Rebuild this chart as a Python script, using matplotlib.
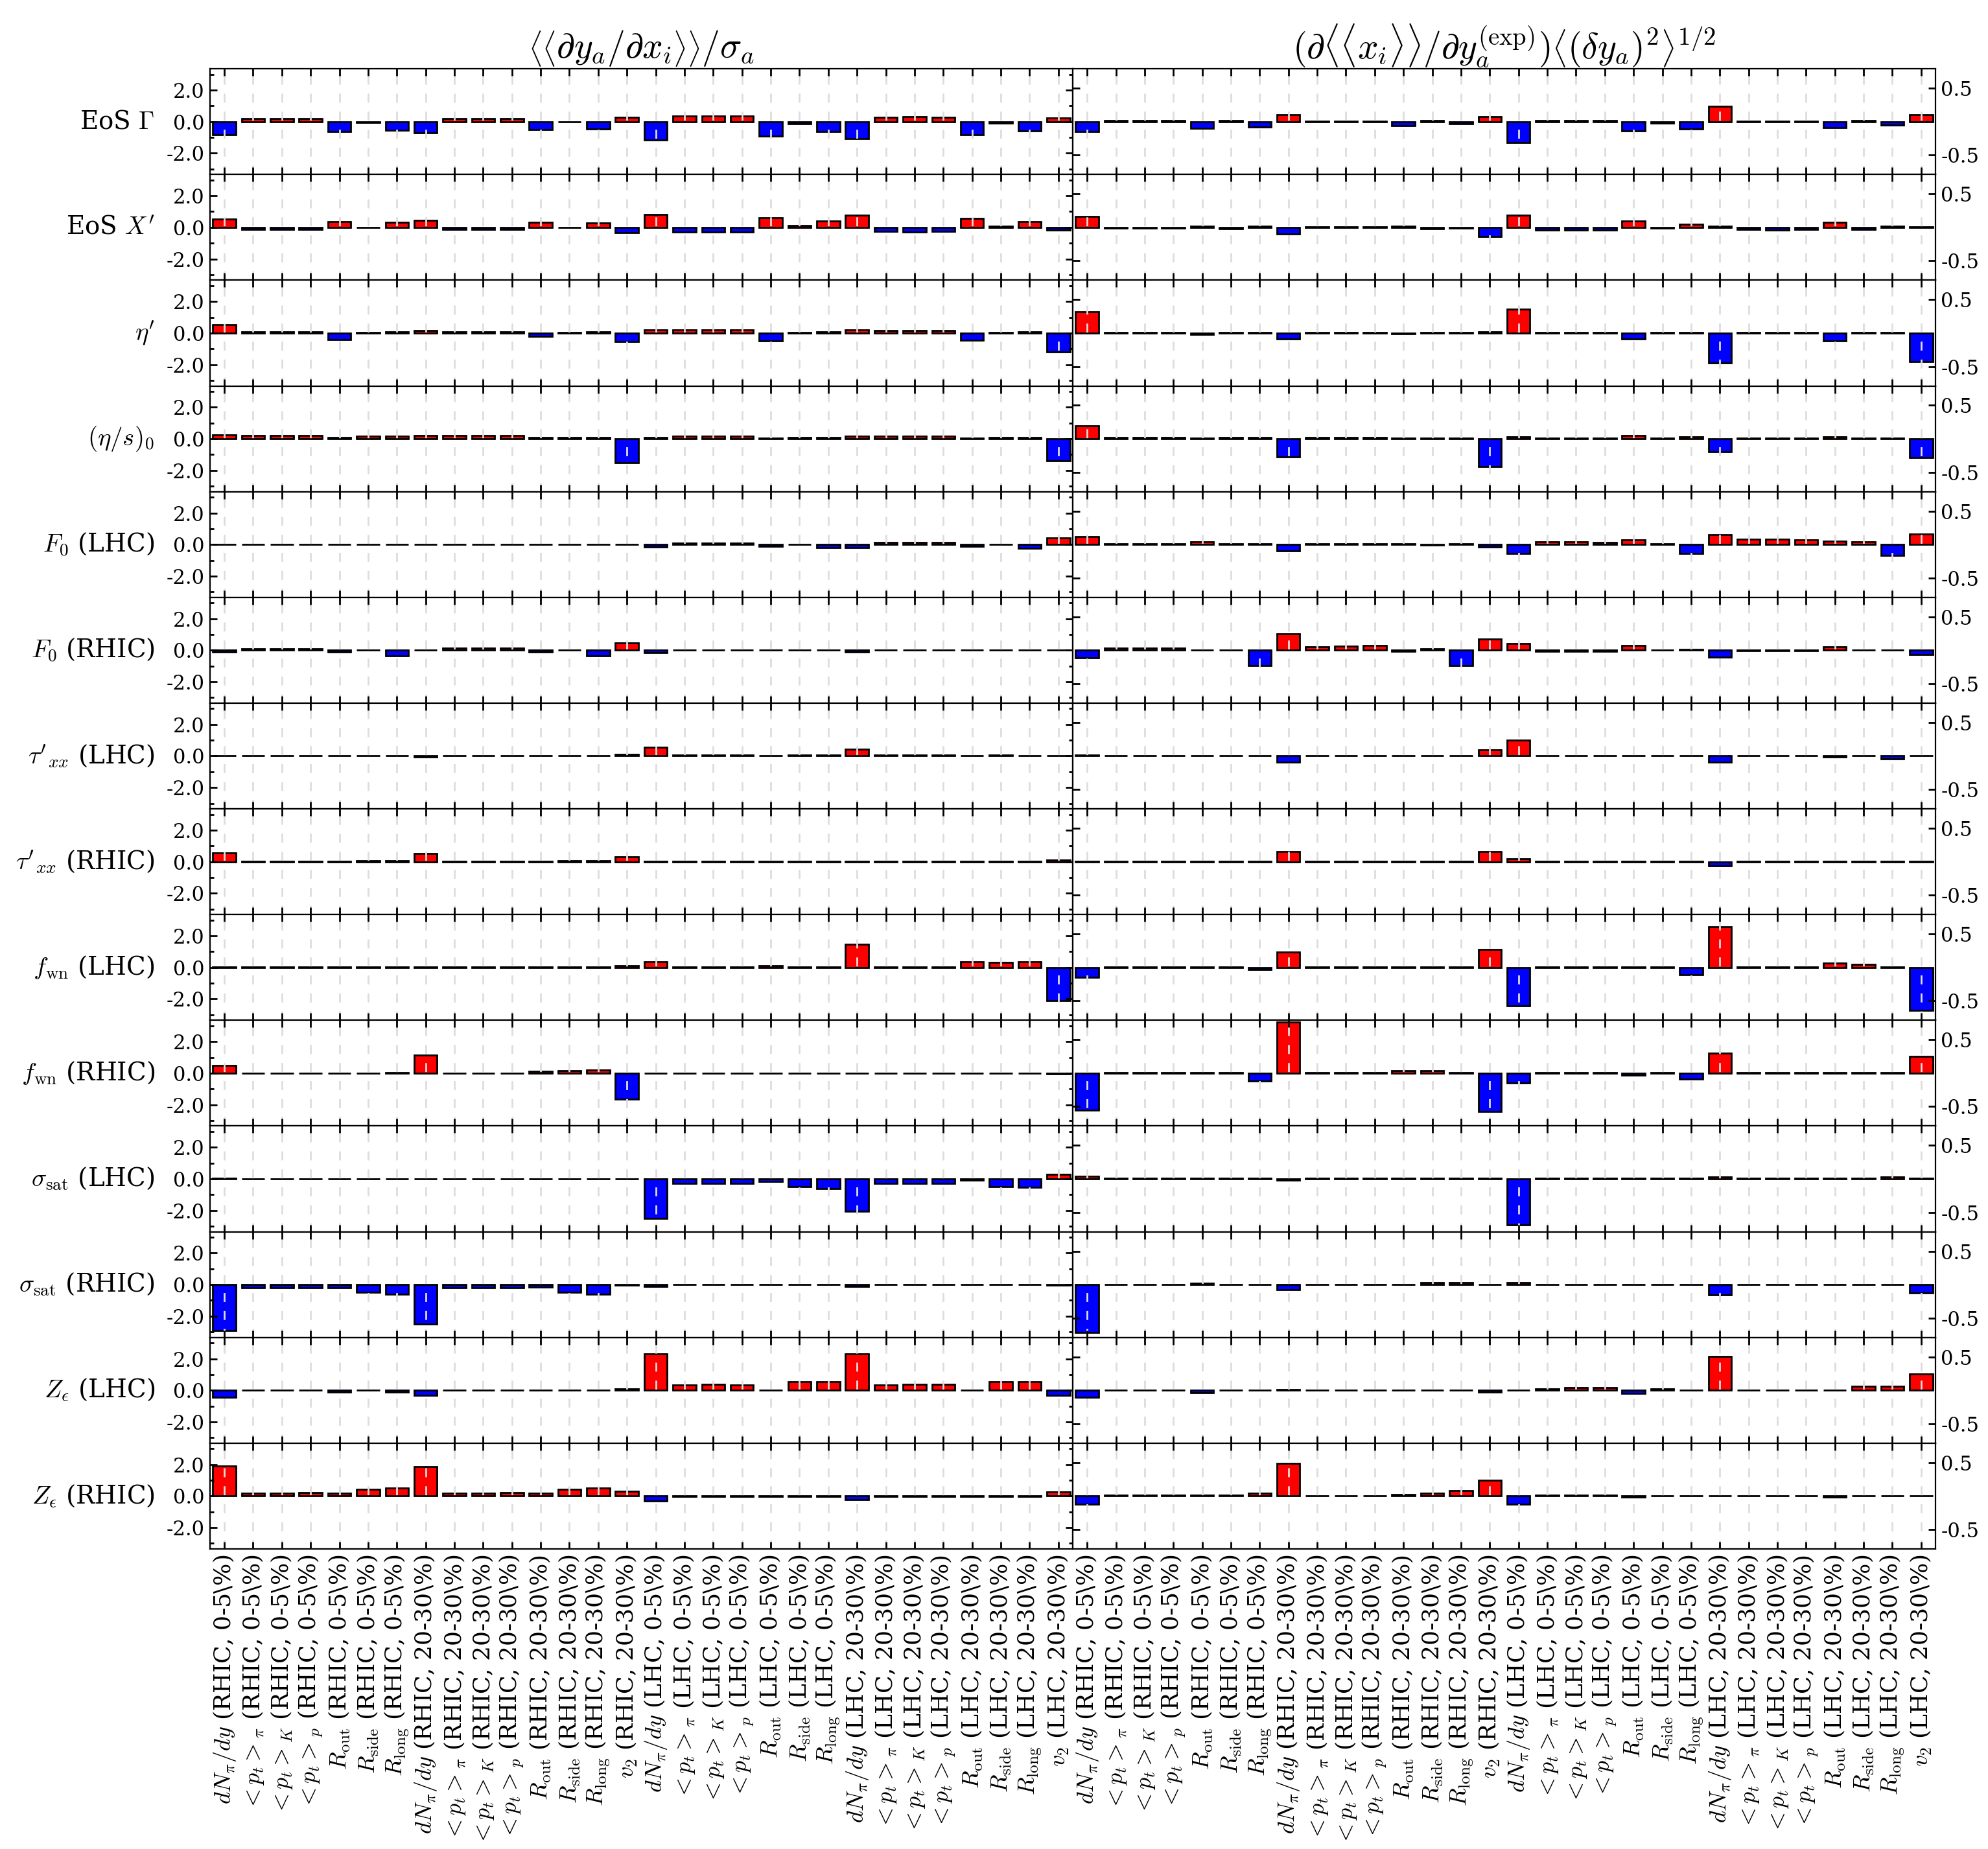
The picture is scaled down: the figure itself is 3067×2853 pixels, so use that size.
import numpy as np
import matplotlib.pyplot as plt
from matplotlib.ticker import MultipleLocator

plt.rcParams['font.family'] = 'serif'
plt.rcParams['font.serif'] = ['DejaVu Serif']
plt.rcParams['mathtext.fontset'] = 'cm'
plt.rcParams['axes.unicode_minus'] = False

# observables (x axis)
base_obs = [r"$dN_\pi/dy$", r"$<p_t>_\pi$", r"$<p_t>_K$", r"$<p_t>_p$",
            r"$R_{\rm out}$", r"$R_{\rm side}$", r"$R_{\rm long}$"]
obs_labels = ([b + r" (RHIC, 0-5\%)" for b in base_obs]
              + [b + r" (RHIC, 20-30\%)" for b in base_obs]
              + [r"$v_2$ (RHIC, 20-30\%)"]
              + [b + r" (LHC, 0-5\%)" for b in base_obs]
              + [b + r" (LHC, 20-30\%)" for b in base_obs]
              + [r"$v_2$ (LHC, 20-30\%)"])

# model parameters (rows)
param_labels = [r"EoS $\Gamma$", r"EoS $X'$", r"$\eta'$", r"$(\eta/s)_0$",
                r"$F_0$ (LHC)", r"$F_0$ (RHIC)",
                r"$\tau'_{xx}$ (LHC)", r"$\tau'_{xx}$ (RHIC)",
                r"$f_{\rm wn}$ (LHC)", r"$f_{\rm wn}$ (RHIC)",
                r"$\sigma_{\rm sat}$ (LHC)", r"$\sigma_{\rm sat}$ (RHIC)",
                r"$Z_\epsilon$ (LHC)", r"$Z_\epsilon$ (RHIC)"]

# left panel: <<dy_a/dx_i>>/sigma_a
sens_eos_gamma = [-0.84, 0.20, 0.21, 0.20, -0.64, -0.07, -0.56, -0.73, 0.18, 0.18, 0.18, -0.52, -0.03, -0.45, 0.29,
                  -1.17, 0.34, 0.36, 0.34, -0.90, -0.14, -0.63, -1.06, 0.29, 0.31, 0.29, -0.83, -0.10, -0.59, 0.24]
sens_eos_x = [0.52, -0.12, -0.12, -0.12, 0.38, -0.02, 0.32, 0.45, -0.12, -0.12, -0.12, 0.31, -0.02, 0.27, -0.34,
              0.81, -0.28, -0.31, -0.28, 0.62, 0.10, 0.39, 0.78, -0.25, -0.28, -0.25, 0.56, 0.07, 0.38, -0.18]
sens_eta_p = [0.55, 0.10, 0.10, 0.10, -0.40, 0.05, 0.10, 0.15, 0.10, 0.10, 0.10, -0.20, 0.05, 0.10, -0.55,
              0.20, 0.20, 0.20, 0.20, -0.50, 0.05, 0.10, 0.20, 0.15, 0.15, 0.15, -0.45, 0.05, 0.10, -1.20]
sens_eta_s = [0.25, 0.20, 0.20, 0.20, 0.10, 0.15, 0.15, 0.20, 0.20, 0.20, 0.20, 0.10, 0.10, 0.10, -1.50,
              0.10, 0.15, 0.15, 0.15, 0.05, 0.10, 0.10, 0.15, 0.15, 0.15, 0.15, 0.05, 0.10, 0.10, -1.40]
sens_f0_lhc = [0.01, 0.01, 0.01, 0.01, 0.01, 0.01, 0.01, 0.01, 0.01, 0.01, 0.01, 0.01, 0.01, 0.01, 0.01,
               -0.15, 0.10, 0.10, 0.10, -0.10, 0.01, -0.20, -0.20, 0.15, 0.15, 0.15, -0.10, 0.01, -0.25, 0.40]
sens_f0_rhic = [-0.10, 0.10, 0.10, 0.10, -0.10, 0.01, -0.35, 0.01, 0.15, 0.15, 0.15, -0.10, 0.01, -0.35, 0.45,
                -0.15, 0.01, 0.01, 0.01, 0.01, 0.01, 0.01, -0.10, 0.01, 0.01, 0.01, 0.01, 0.01, 0.01, 0.01]
sens_tau_lhc = [0.01, 0.01, 0.01, 0.01, 0.01, 0.01, 0.01, -0.05, 0.01, 0.01, 0.01, 0.01, 0.01, 0.01, 0.12,
                0.55, 0.05, 0.05, 0.05, 0.01, 0.05, 0.05, 0.45, 0.05, 0.05, 0.05, 0.01, 0.05, 0.01, 0.01]
sens_tau_rhic = [0.55, 0.02, 0.02, 0.02, 0.02, 0.05, 0.07, 0.50, 0.02, 0.02, 0.02, 0.02, 0.05, 0.07, 0.30,
                 0.02, 0.02, 0.02, 0.02, 0.02, 0.02, 0.02, 0.02, 0.02, 0.02, 0.02, 0.02, 0.02, 0.02, 0.10]
sens_fwn_lhc = [0.01, 0.01, 0.01, 0.01, 0.01, 0.01, 0.01, 0.01, 0.01, 0.01, 0.01, 0.01, 0.01, 0.01, 0.10,
                0.35, 0.01, 0.01, 0.01, 0.10, 0.05, 0.05, 1.45, 0.01, 0.01, 0.01, 0.35, 0.30, 0.35, -2.10]
sens_fwn_rhic = [0.50, 0.01, 0.01, 0.01, 0.01, 0.01, 0.05, 1.15, 0.01, 0.01, 0.01, 0.10, 0.15, 0.20, -1.65,
                 0.01, 0.01, 0.01, 0.01, 0.01, 0.01, 0.01, 0.01, 0.01, 0.01, 0.01, 0.01, 0.01, 0.01, -0.05]
sens_sat_lhc = [0.05, -0.01, -0.01, -0.01, -0.01, -0.01, -0.01, -0.01, -0.01, -0.01, -0.01, -0.01, -0.01, -0.01, -0.01,
                -2.50, -0.30, -0.30, -0.30, -0.15, -0.50, -0.60, -2.05, -0.30, -0.30, -0.30, -0.10, -0.50, -0.55, 0.30]
sens_sat_rhic = [-2.90, -0.20, -0.20, -0.20, -0.20, -0.50, -0.60, -2.50, -0.20, -0.20, -0.20, -0.15, -0.50, -0.60, -0.05,
                 -0.10, 0.01, 0.01, 0.01, 0.01, 0.01, 0.01, -0.10, 0.01, 0.01, 0.01, 0.01, 0.01, 0.01, -0.05]
sens_z_lhc = [-0.45, 0.01, 0.01, 0.01, -0.12, 0.01, -0.10, -0.30, 0.01, 0.01, 0.01, 0.01, 0.01, 0.01, 0.10,
              2.30, 0.35, 0.40, 0.35, 0.01, 0.55, 0.55, 2.30, 0.35, 0.40, 0.40, 0.01, 0.55, 0.55, -0.30]
sens_z_rhic = [1.90, 0.18, 0.20, 0.22, 0.20, 0.44, 0.49, 1.87, 0.18, 0.20, 0.22, 0.20, 0.44, 0.49, 0.30,
               -0.30, -0.02, -0.02, -0.02, -0.02, -0.03, -0.03, -0.25, -0.02, -0.02, -0.02, -0.02, -0.02, -0.02, 0.28]

# right panel: (d<<x_i>>/dy_a^(exp)) <(dy_a)^2>^(1/2)
err_eos_gamma = [-0.15, 0.013, 0.013, 0.013, -0.10, 0.013, -0.085, 0.10, 0.01, 0.01, 0.01, -0.06, 0.02, -0.03, 0.07,
                 -0.31, 0.02, 0.02, 0.02, -0.14, -0.02, -0.11, 0.23, 0.01, 0.01, 0.01, -0.09, 0.02, -0.05, 0.10]
err_eos_x = [0.16, -0.01, -0.01, -0.01, 0.02, -0.02, 0.02, -0.10, 0.01, 0.01, 0.01, 0.015, -0.02, -0.01, -0.14,
             0.18, -0.04, -0.045, -0.04, 0.10, -0.01, 0.05, 0.015, -0.03, -0.04, -0.03, 0.08, -0.03, 0.02, 0.005]
err_eta_p = [0.32, 0.01, 0.01, 0.01, -0.02, 0.01, 0.01, -0.09, 0.01, 0.01, 0.01, -0.01, 0.01, 0.01, 0.02,
             0.36, 0.01, 0.01, 0.01, -0.09, 0.01, 0.01, -0.45, 0.01, 0.01, 0.01, -0.12, 0.01, 0.01, -0.43]
err_eta_s = [0.19, 0.02, 0.02, 0.02, 0.01, 0.02, 0.02, -0.27, 0.02, 0.02, 0.02, 0.01, 0.01, 0.01, -0.42,
             0.03, 0.01, 0.01, 0.01, 0.05, 0.01, 0.03, -0.19, 0.01, 0.01, 0.01, 0.03, 0.01, 0.01, -0.28]
err_f0_lhc = [0.12, 0.01, 0.01, 0.01, 0.04, 0.01, 0.01, -0.09, 0.01, 0.01, 0.01, 0.01, -0.01, 0.01, -0.04,
              -0.13, 0.04, 0.04, 0.03, 0.07, 0.01, -0.13, 0.15, 0.08, 0.08, 0.07, 0.05, 0.04, -0.16, 0.16]
err_f0_rhic = [-0.11, 0.03, 0.03, 0.03, 0.005, 0.005, -0.23, 0.25, 0.05, 0.06, 0.07, -0.02, 0.02, -0.23, 0.17,
               0.10, -0.02, -0.02, -0.02, 0.07, 0.005, 0.01, -0.10, -0.01, -0.01, -0.01, 0.05, 0.005, 0.005, -0.06]
err_tau_lhc = [0.01, 0.005, 0.005, 0.005, 0.005, 0.005, 0.005, -0.09, 0.005, 0.005, 0.005, 0.005, 0.005, 0.005, 0.09,
               0.24, 0.005, 0.005, 0.005, 0.005, 0.005, 0.005, -0.09, 0.005, 0.005, 0.005, -0.01, 0.005, -0.04, 0.005]
err_tau_rhic = [0.005, 0.005, 0.005, 0.005, 0.005, 0.005, 0.005, 0.15, 0.005, 0.005, 0.005, 0.005, 0.005, 0.005, 0.15,
                0.04, 0.005, 0.005, 0.005, 0.005, 0.005, 0.005, -0.06, 0.005, 0.005, 0.005, 0.005, 0.005, 0.005, 0.005]
err_fwn_lhc = [-0.15, 0.005, 0.005, 0.005, 0.005, 0.005, -0.03, 0.23, 0.005, 0.005, 0.005, 0.005, 0.005, 0.005, 0.27,
               -0.57, 0.005, 0.005, 0.005, 0.005, 0.005, -0.11, 0.61, 0.005, 0.005, 0.005, 0.07, 0.05, 0.005, -0.64]
err_fwn_rhic = [-0.55, 0.005, 0.005, 0.005, 0.005, 0.005, -0.12, 0.76, 0.005, 0.005, 0.005, 0.04, 0.04, 0.005, -0.57,
                -0.15, 0.005, 0.005, 0.005, -0.03, 0.005, -0.09, 0.30, 0.005, 0.005, 0.005, 0.005, 0.005, 0.005, 0.25]
err_sat_lhc = [0.04, 0.005, 0.005, 0.005, 0.005, 0.005, 0.005, -0.02, 0.005, 0.005, 0.005, 0.005, 0.005, 0.005, 0.005,
               -0.69, 0.005, 0.005, 0.005, 0.005, 0.005, 0.005, 0.03, 0.005, 0.005, 0.005, 0.005, 0.005, 0.03, 0.005]
err_sat_rhic = [-0.72, 0.005, 0.005, 0.005, 0.02, 0.005, 0.005, -0.08, 0.005, 0.005, 0.005, 0.005, 0.03, 0.03, 0.005,
                0.03, 0.005, 0.005, 0.005, 0.005, 0.005, 0.005, -0.15, 0.005, 0.005, 0.005, 0.005, 0.005, 0.005, -0.12]
err_z_lhc = [-0.10, 0.005, 0.005, 0.005, -0.04, 0.005, 0.005, 0.01, 0.005, 0.005, 0.005, 0.005, 0.005, 0.005, -0.03,
             0.005, 0.02, 0.04, 0.04, -0.05, 0.02, 0.005, 0.51, 0.005, 0.005, 0.005, 0.005, 0.06, 0.06, 0.24]
err_z_rhic = [-0.12, 0.01, 0.01, 0.01, 0.01, 0.01, 0.04, 0.49, 0.005, 0.005, 0.005, 0.02, 0.04, 0.08, 0.24,
              -0.12, 0.01, 0.01, 0.01, -0.02, 0.005, 0.005, 0.005, 0.005, 0.005, 0.005, -0.02, 0.005, 0.005, 0.005]

sens_rows = [sens_eos_gamma, sens_eos_x, sens_eta_p, sens_eta_s, sens_f0_lhc, sens_f0_rhic,
             sens_tau_lhc, sens_tau_rhic, sens_fwn_lhc, sens_fwn_rhic, sens_sat_lhc, sens_sat_rhic,
             sens_z_lhc, sens_z_rhic]
err_rows = [err_eos_gamma, err_eos_x, err_eta_p, err_eta_s, err_f0_lhc, err_f0_rhic,
            err_tau_lhc, err_tau_rhic, err_fwn_lhc, err_fwn_rhic, err_sat_lhc, err_sat_rhic,
            err_z_lhc, err_z_rhic]

nrow = len(param_labels)
x = np.arange(len(obs_labels))

fig, axes = plt.subplots(nrow, 2, figsize=(15.335, 14.265), dpi=200)
fig.subplots_adjust(left=0.1056, right=0.9736, top=0.9628, bottom=0.1623, hspace=0, wspace=0)

for i in range(nrow):
    for j, vals in enumerate([sens_rows[i], err_rows[i]]):
        ax = axes[i, j]
        v = np.array(vals)
        cols = np.where(v >= 0, '#ff0000', '#0000ff')
        ax.bar(x, v, width=0.8, color=cols, edgecolor='black', linewidth=1.0)
        ax.set_xlim(-0.5, len(x) - 0.5)
        ax.set_xticks(x)
        ax.grid(True, axis='x', color='#dddddd', linestyle=(0, (5, 5)), linewidth=1.0)
        ax.set_axisbelow(False)
        ax.tick_params(which='both', direction='in', top=True, bottom=True, left=True, right=True)
        ax.tick_params(which='major', length=4, width=1.0, labelsize=11, pad=3)
        ax.tick_params(which='minor', length=2, width=1.0)
        if i < nrow - 1:
            ax.set_xticklabels([])
        else:
            ax.set_xticklabels(obs_labels, rotation=90, fontsize=13, va='top', ha='center')
        if j == 0:
            ax.set_ylim(-3.35, 3.35)
            ax.set_yticks([-2, 0, 2])
            ax.set_yticklabels(['-2.0', '0.0', '2.0'])
            ax.yaxis.set_minor_locator(MultipleLocator(1))
            ax.set_ylabel(param_labels[i], rotation=0, ha='right', va='center', fontsize=14)
            ax.yaxis.set_label_coords(-0.064, 0.5)
        else:
            ax.set_ylim(-0.79, 0.79)
            ax.set_yticks([-0.5, 0.5])
            ax.set_yticklabels(['-0.5', '0.5'])
            ax.tick_params(labelleft=False, labelright=True)

axes[0, 0].set_title(r"$\left\langle\left\langle\partial y_a/\partial x_i\right\rangle\right\rangle/\sigma_a$",
                     fontsize=20, pad=6)
axes[0, 1].set_title(r"$(\partial\langle\langle x_i\rangle\rangle/\partial y_a^{\rm (exp)})"
                     r"\left\langle(\delta y_a)^2\right\rangle^{1/2}$", fontsize=20, pad=6)

plt.savefig("out.png", dpi=200)
